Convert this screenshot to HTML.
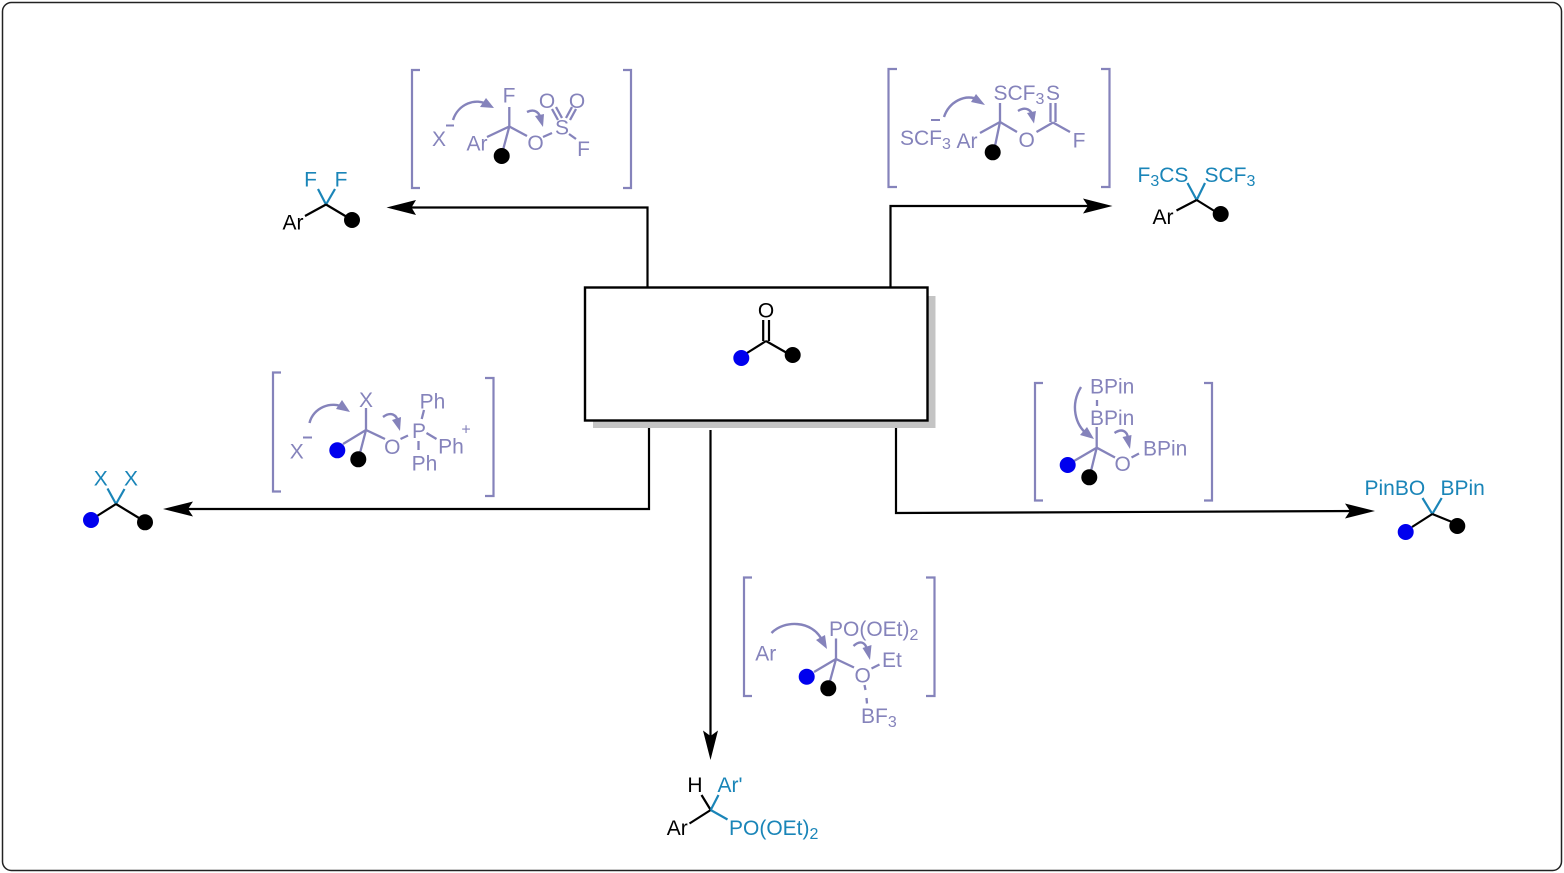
<!DOCTYPE html>
<html>
<head>
<meta charset="utf-8">
<style>
html,body{margin:0;padding:0;background:#fff;width:1564px;height:873px;overflow:hidden}
svg{display:block}
text{font-family:"Liberation Sans",sans-serif;font-size:21px}
tspan.s{font-size:16px}
.p text,text.p{fill:#8583bb}
.t text,text.t{fill:#1a85b8}
.k text,text.k{fill:#000}
.m{text-anchor:middle}
.pl line{stroke:#8583bb;stroke-width:2.3;fill:none}
.br path{stroke:#8583bb;stroke-width:2.2;fill:none}
.bk line{stroke:#000;stroke-width:2.2}
.tl line{stroke:#1a85b8;stroke-width:2.2}
.cv path{stroke:#8583bb;stroke-width:2.4;fill:none}
.cv polygon{fill:#8583bb}
.cn path{stroke:#000;stroke-width:2.2;fill:none}
</style>
</head>
<body>
<svg width="1564" height="873" viewBox="0 0 1564 873" xmlns="http://www.w3.org/2000/svg">
<rect width="1564" height="873" fill="#fff"/>
<rect x="2.5" y="2.5" width="1559" height="868" rx="9" fill="#fff" stroke="#222" stroke-width="1.5"/>

<!-- central box -->
<rect x="593" y="296" width="342.5" height="132" fill="#c4c4c4"/>
<rect x="585" y="287.5" width="342.5" height="133" fill="#fff" stroke="#000" stroke-width="2.4"/>
<g class="bk">
<line x1="766" y1="341" x2="747" y2="353"/>
<line x1="766" y1="341" x2="787" y2="353"/>
<line x1="763.2" y1="320" x2="763.2" y2="341"/>
<line x1="769" y1="320" x2="769" y2="341"/>
</g>
<text class="k m" x="766" y="317.5">O</text>
<circle cx="741.3" cy="358" r="8" fill="#0000ee"/>
<circle cx="792.7" cy="355" r="8" fill="#000"/>

<!-- connectors -->
<g class="cn">
<path d="M647.5 287V207.5H405"/>
<path d="M890.5 287V206H1095"/>
<path d="M649 428V509H180"/>
<path d="M896 428V513L1360 511"/>
<path d="M710.5 430V740"/>
</g>
<polygon points="386.5,207.5 416,200 411.5,207.5 416,215" fill="#000"/>
<polygon points="1112.5,206 1083,198.5 1088,206 1083,213.5" fill="#000"/>
<polygon points="163,509 193,501.5 188,509 193,516.5" fill="#000"/>
<polygon points="1375,511 1345,503.5 1350,511 1345,518.5" fill="#000"/>
<polygon points="710.5,760 703,730.5 710.5,736 718,730.5" fill="#000"/>

<!-- brackets -->
<g class="br">
<path d="M420 70H412V188H420"/><path d="M623 70H631V188H623"/>
<path d="M897 69H888.5V187H897"/><path d="M1101 69H1109.5V187H1101"/>
<path d="M281 372.5H273V491.5H281"/><path d="M485 378H493.5V496H485"/>
<path d="M1043 383H1035V500.5H1043"/><path d="M1204 383H1212V500.5H1204"/>
<path d="M752 577.5H744V696H752"/><path d="M926 577.5H934.5V696H926"/>
</g>

<!-- Intermediate 1 -->
<g class="pl">
<line x1="509.3" y1="107" x2="509.3" y2="126.5"/>
<line x1="487" y1="137" x2="509.3" y2="126.5"/>
<line x1="509.3" y1="126.5" x2="503" y2="150"/>
<line x1="509.3" y1="126.5" x2="527" y2="136"/>
<line x1="543" y1="137" x2="552" y2="133"/>
<line x1="569" y1="134" x2="576" y2="139"/>
<line x1="552" y1="109" x2="558" y2="120"/>
<line x1="556" y1="107" x2="562" y2="118"/>
<line x1="572" y1="107" x2="566" y2="118"/>
<line x1="576" y1="109" x2="570" y2="120"/>
</g>
<g class="p">
<text class="m" x="509" y="102.5">F</text>
<text class="m" x="477" y="150.5">Ar</text>
<text class="m" x="535.5" y="150">O</text>
<text class="m" x="562" y="134.5">S</text>
<text class="m" x="583.5" y="156">F</text>
<text class="m" x="547" y="108">O</text>
<text class="m" x="577" y="108">O</text>
<text class="m" x="439" y="146">X</text>
</g>
<line x1="446" y1="125.5" x2="454" y2="125.5" stroke="#8583bb" stroke-width="2"/>
<circle cx="501.7" cy="156" r="8" fill="#000"/>
<g class="cv">
<path d="M453 120C458 104 476 97 488 105"/>
<polygon points="494,108 480,107 486,98"/>
<path d="M527 112C535 108 540 113 541 120"/>
<polygon points="543,127 535,116 544,114"/>
</g>

<!-- Product 1 -->
<g class="tl">
<line x1="326" y1="204.5" x2="318" y2="189"/>
<line x1="326" y1="204.5" x2="335" y2="189"/>
</g>
<g class="bk">
<line x1="326" y1="204.5" x2="305" y2="216"/>
<line x1="326" y1="204.5" x2="347" y2="217"/>
</g>
<text class="t m" x="310.5" y="186.5">F</text>
<text class="t m" x="341" y="186.5">F</text>
<text class="k m" x="293" y="229.5">Ar</text>
<circle cx="352" cy="220" r="8" fill="#000"/>

<!-- Intermediate 2 -->
<g class="pl">
<line x1="1000" y1="103" x2="1000" y2="122"/>
<line x1="980" y1="133" x2="1000" y2="122"/>
<line x1="1000" y1="122" x2="995" y2="146"/>
<line x1="1000" y1="122" x2="1017" y2="132"/>
<line x1="1036.5" y1="132" x2="1053" y2="122.5"/>
<line x1="1053" y1="122.5" x2="1070" y2="132"/>
<line x1="1050.5" y1="103" x2="1050.5" y2="122"/>
<line x1="1055.5" y1="103" x2="1055.5" y2="122"/>
</g>
<g class="p">
<text x="993.5" y="100">SCF<tspan class="s" dy="4">3</tspan></text>
<text class="m" x="1053" y="100">S</text>
<text class="m" x="967" y="148">Ar</text>
<text class="m" x="1026.7" y="147">O</text>
<text class="m" x="1079" y="147.5">F</text>
<text x="900" y="145">SCF<tspan class="s" dy="4">3</tspan></text>
</g>
<line x1="931" y1="120" x2="940" y2="120" stroke="#8583bb" stroke-width="2"/>
<circle cx="992.7" cy="152.3" r="8" fill="#000"/>
<g class="cv">
<path d="M944 117C949 102 965 93 979 100"/>
<polygon points="985,105 971,102 976,94"/>
<path d="M1018 111C1026 106 1031 110 1033 116"/>
<polygon points="1034,123.5 1027,113 1036,111"/>
</g>

<!-- Product 2 -->
<g class="tl">
<line x1="1196.7" y1="200" x2="1187.5" y2="183"/>
<line x1="1196.7" y1="200" x2="1205" y2="183"/>
</g>
<g class="bk">
<line x1="1196.7" y1="200" x2="1176.5" y2="210.5"/>
<line x1="1196.7" y1="200" x2="1216" y2="212"/>
</g>
<g class="t">
<text x="1137.5" y="182">F<tspan class="s" dy="4">3</tspan><tspan dy="-4">CS</tspan></text>
<text x="1204.5" y="182">SCF<tspan class="s" dy="4">3</tspan></text>
</g>
<text class="k m" x="1163" y="224">Ar</text>
<circle cx="1220.7" cy="214" r="8" fill="#000"/>

<!-- Intermediate 3 -->
<g class="pl">
<line x1="366" y1="408" x2="366" y2="430"/>
<line x1="343" y1="444" x2="366" y2="430"/>
<line x1="366" y1="430" x2="360" y2="453"/>
<line x1="366" y1="430" x2="385" y2="439"/>
<line x1="400.5" y1="439" x2="408" y2="435.5"/>
<line x1="424" y1="410" x2="421.7" y2="419"/>
<line x1="426.5" y1="433" x2="436.5" y2="439"/>
<line x1="418.5" y1="441" x2="418.5" y2="450"/>
</g>
<g class="p">
<text class="m" x="366" y="407">X</text>
<text class="m" x="392.3" y="454">O</text>
<text class="m" x="419" y="438">P</text>
<text class="m" x="432.5" y="408.5">Ph</text>
<text class="m" x="451" y="453.5">Ph</text>
<text class="m" x="424.5" y="470.5">Ph</text>
<text class="m" x="466" y="434.5" style="font-size:16px">+</text>
<text class="m" x="296.7" y="458.5">X</text>
</g>
<line x1="303" y1="437.5" x2="312" y2="437.5" stroke="#8583bb" stroke-width="2"/>
<circle cx="337.3" cy="450.3" r="8" fill="#0000ee"/>
<circle cx="358.3" cy="459.3" r="8" fill="#000"/>
<g class="cv">
<path d="M309.5 423C313 408 331 400 345 408"/>
<polygon points="350,412 336,409 342,400"/>
<path d="M383 417C391 411 397 415 398 422"/>
<polygon points="400,431 392,420 401,417"/>
</g>

<!-- Product 3 -->
<g class="tl">
<line x1="116" y1="504" x2="107.5" y2="488.5"/>
<line x1="116" y1="504" x2="124.5" y2="489"/>
</g>
<g class="bk">
<line x1="116" y1="504" x2="97" y2="516"/>
<line x1="116" y1="504" x2="139" y2="518"/>
</g>
<text class="t m" x="100.7" y="485.5">X</text>
<text class="t m" x="131" y="485.5">X</text>
<circle cx="91" cy="520" r="8" fill="#0000ee"/>
<circle cx="145" cy="522.3" r="8" fill="#000"/>

<!-- Intermediate 4 -->
<g class="pl">
<line x1="1097" y1="400" x2="1097" y2="406"/>
<line x1="1096.7" y1="427" x2="1096.7" y2="447.7"/>
<line x1="1074" y1="461" x2="1096.7" y2="447.7"/>
<line x1="1096.7" y1="447.7" x2="1091" y2="471"/>
<line x1="1096.7" y1="447.7" x2="1115" y2="457.5"/>
<line x1="1131.5" y1="457.5" x2="1139" y2="453.5"/>
</g>
<g class="p">
<text x="1090" y="393.5">BPin</text>
<text x="1090" y="425">BPin</text>
<text x="1143" y="455.5">BPin</text>
<text class="m" x="1122.7" y="471">O</text>
</g>
<circle cx="1067.7" cy="465" r="8" fill="#0000ee"/>
<circle cx="1089.3" cy="477.3" r="8" fill="#000"/>
<g class="cv">
<path d="M1081 387C1070 405 1075 425 1088 435"/>
<polygon points="1094,439 1080,435 1087,427"/>
<path d="M1114.5 433C1122 428 1127 431 1128 438"/>
<polygon points="1130,449 1122.5,437 1131.5,435"/>
</g>

<!-- Product 4 -->
<g class="tl">
<line x1="1432.3" y1="514" x2="1422.5" y2="498"/>
<line x1="1432.3" y1="514" x2="1441.7" y2="498"/>
</g>
<g class="bk">
<line x1="1432.3" y1="514" x2="1412" y2="527"/>
<line x1="1432.3" y1="514" x2="1452" y2="522"/>
</g>
<g class="t">
<text x="1364.5" y="495">PinBO</text>
<text x="1440.5" y="495">BPin</text>
</g>
<circle cx="1405.7" cy="532" r="8" fill="#0000ee"/>
<circle cx="1457.3" cy="526" r="8" fill="#000"/>

<!-- Intermediate 5 -->
<g class="pl">
<line x1="836" y1="638.5" x2="836" y2="659"/>
<line x1="814" y1="672" x2="836" y2="659"/>
<line x1="836" y1="659" x2="830" y2="681"/>
<line x1="836" y1="659" x2="854" y2="667.5"/>
<line x1="871.5" y1="668.5" x2="879.5" y2="664.5"/>
<line x1="864.5" y1="685" x2="865.5" y2="690"/>
<line x1="866.5" y1="698" x2="867" y2="703.5"/>
</g>
<g class="p">
<text x="829" y="636">PO(OEt)<tspan class="s" dy="4">2</tspan></text>
<text class="m" x="862.7" y="682.5">O</text>
<text x="882" y="667">Et</text>
<text x="861" y="723">BF<tspan class="s" dy="4">3</tspan></text>
<text class="m" x="765.7" y="660.5">Ar</text>
</g>
<circle cx="806.7" cy="676.7" r="8" fill="#0000ee"/>
<circle cx="828.3" cy="688.3" r="8" fill="#000"/>
<g class="cv">
<path d="M771.5 633C784 620 812 620 822 640"/>
<polygon points="827,649 816,640 825,635"/>
<path d="M853.5 646C860 640 865 642 867 649"/>
<polygon points="870,660 862.5,648 871.5,645"/>
</g>

<!-- Product 5 -->
<g class="bk">
<line x1="710.7" y1="810" x2="701.5" y2="795"/>
<line x1="710.7" y1="810" x2="689.5" y2="823.5"/>
</g>
<g class="tl">
<line x1="710.7" y1="810" x2="718.5" y2="795"/>
<line x1="710.7" y1="810" x2="727.5" y2="819.5"/>
</g>
<text class="k m" x="695" y="792">H</text>
<text class="k m" x="677.3" y="835">Ar</text>
<g class="t">
<text x="717.5" y="792">Ar'</text>
<text x="729" y="835">PO(OEt)<tspan class="s" dy="4">2</tspan></text>
</g>
</svg>
</body>
</html>
